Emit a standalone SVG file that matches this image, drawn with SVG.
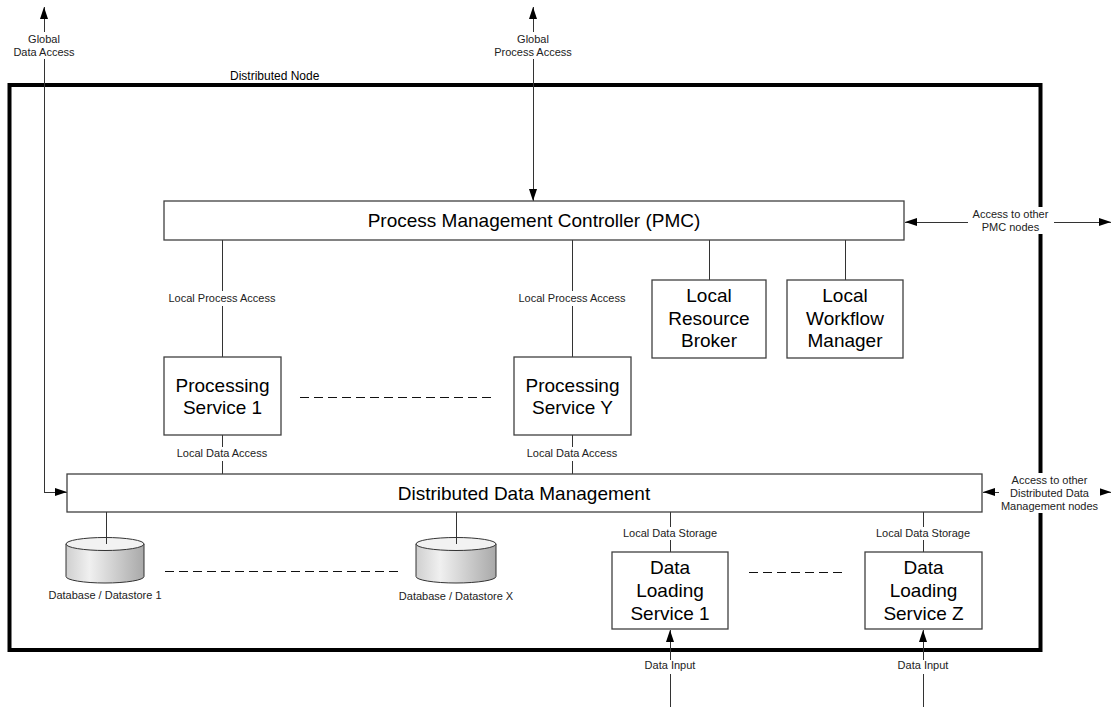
<svg xmlns="http://www.w3.org/2000/svg" width="1112" height="707" viewBox="0 0 1112 707">
<defs>
<marker id="ah" viewBox="0 0 12 8" refX="12" refY="4" markerWidth="12" markerHeight="8" markerUnits="userSpaceOnUse" orient="auto-start-reverse">
<path d="M0,0 L12,4 L0,8 z" fill="#000"/>
</marker>
<linearGradient id="cyl" x1="0" y1="0" x2="1" y2="0">
<stop offset="0" stop-color="#cfcfcf"/>
<stop offset="0.3" stop-color="#f0f0f0"/>
<stop offset="1" stop-color="#a9a9a9"/>
</linearGradient>
<style>
.box{fill:#fff;stroke:#404040;stroke-width:1.3}
.ln{fill:none;stroke:#333;stroke-width:1;shape-rendering:crispEdges}
.dash{fill:none;stroke:#111;stroke-width:1;stroke-dasharray:9,5;shape-rendering:crispEdges}
.big{font-family:"Liberation Sans",Arial,sans-serif;font-size:19px;fill:#000;text-anchor:middle}
.sm{font-family:"Liberation Sans",Arial,sans-serif;font-size:11px;fill:#222;text-anchor:middle}
.bg{fill:#fff;stroke:none}
.cylbody{fill:url(#cyl);stroke:#333;stroke-width:1}
.cyltop{fill:#f2f2f2;stroke:#333;stroke-width:1}
</style>
</defs>
<rect width="1112" height="707" fill="#fff"/>
<g id="frame">
<rect x="9.5" y="85" width="1031" height="565" fill="none" stroke="#000" stroke-width="4"/>
<text x="230" y="80" font-family="Liberation Sans, Arial, sans-serif" font-size="12" fill="#000">Distributed Node</text>
</g>
<g id="connectors">
<path class="ln" d="M44,7 L44,492 L67,492" marker-start="url(#ah)" marker-end="url(#ah)"/>
<path class="ln" d="M533,7 L533,201" marker-start="url(#ah)" marker-end="url(#ah)"/>
<path class="ln" d="M905,222 L1111,222" marker-start="url(#ah)" marker-end="url(#ah)"/>
<path class="ln" d="M983,492 L1111,492" marker-start="url(#ah)" marker-end="url(#ah)"/>
<path class="ln" d="M709,240 L709,280"/>
<path class="ln" d="M845,240 L845,280"/>
<path class="ln" d="M222,240 L222,357"/>
<path class="ln" d="M222,435 L222,474"/>
<path class="ln" d="M572,240 L572,357"/>
<path class="ln" d="M572,435 L572,474"/>
<path class="ln" d="M670,512 L670,552"/>
<path class="ln" d="M923,512 L923,552"/>
<path class="ln" d="M670,707 L670,630" marker-end="url(#ah)"/>
<path class="ln" d="M923,707 L923,630" marker-end="url(#ah)"/>
<path class="dash" d="M300,397 L495,397"/>
<path class="dash" d="M165,571 L398,571"/>
<path class="dash" d="M749,572 L847,572"/>
</g>
<g id="labels">
<rect class="bg" x="12" y="32" width="64" height="27"/>
<text class="sm" x="44" y="43">Global</text>
<text class="sm" x="44" y="56">Data Access</text>
<rect class="bg" x="492" y="32" width="82" height="27"/>
<text class="sm" x="533" y="43">Global</text>
<text class="sm" x="533" y="56">Process Access</text>
<rect class="bg" x="968" y="207" width="86" height="27"/>
<text class="sm" x="1010.5" y="218">Access to other</text>
<text class="sm" x="1010.5" y="231">PMC nodes</text>
<rect class="bg" x="999" y="473" width="101" height="40"/>
<text class="sm" x="1049.5" y="484">Access to other</text>
<text class="sm" x="1049.5" y="497">Distributed Data</text>
<text class="sm" x="1049.5" y="510">Management nodes</text>
<rect class="bg" x="166" y="291" width="112" height="15"/>
<text class="sm" x="222" y="302">Local Process Access</text>
<rect class="bg" x="516" y="291" width="112" height="15"/>
<text class="sm" x="572" y="302">Local Process Access</text>
<rect class="bg" x="174" y="447" width="96" height="14"/>
<text class="sm" x="222" y="457">Local Data Access</text>
<rect class="bg" x="524" y="447" width="96" height="14"/>
<text class="sm" x="572" y="457">Local Data Access</text>
<rect class="bg" x="620" y="527" width="100" height="13"/>
<text class="sm" x="670" y="536.5">Local Data Storage</text>
<rect class="bg" x="873" y="527" width="100" height="13"/>
<text class="sm" x="923" y="536.5">Local Data Storage</text>
<rect class="bg" x="642" y="660" width="56" height="14"/>
<text class="sm" x="670" y="669">Data Input</text>
<rect class="bg" x="895" y="660" width="56" height="14"/>
<text class="sm" x="923" y="669">Data Input</text>
</g>
<g id="pmc">
<rect class="box" x="164" y="201" width="740" height="39"/>
<text class="big" x="534" y="227">Process Management Controller (PMC)</text>
</g>
<g id="lrb">
<rect class="box" x="652" y="280" width="114" height="78"/>
<text class="big" x="709" y="302">Local</text>
<text class="big" x="709" y="324.5">Resource</text>
<text class="big" x="709" y="347">Broker</text>
</g>
<g id="lwm">
<rect class="box" x="787" y="280" width="116" height="78"/>
<text class="big" x="845" y="302">Local</text>
<text class="big" x="845" y="324.5">Workflow</text>
<text class="big" x="845" y="347">Manager</text>
</g>
<g id="ps1">
<rect class="box" x="164" y="357" width="117" height="78"/>
<text class="big" x="222.5" y="391.5">Processing</text>
<text class="big" x="222.5" y="413.5">Service 1</text>
</g>
<g id="psy">
<rect class="box" x="514" y="357" width="117" height="78"/>
<text class="big" x="572.5" y="391.5">Processing</text>
<text class="big" x="572.5" y="413.5">Service Y</text>
</g>
<g id="ddm">
<rect class="box" x="67" y="474" width="915" height="38"/>
<text class="big" x="524" y="500">Distributed Data Management</text>
</g>
<g id="db1">
<path class="cylbody" d="M66,544 L66,576.5 A39,6.5 0 0 0 144,576.5 L144,544 Z"/>
<ellipse class="cyltop" cx="105" cy="544" rx="39" ry="6.5"/>
<path class="ln" d="M106,512 L106,544"/>
<text class="sm" x="105" y="599">Database / Datastore 1</text>
</g>
<g id="dbx">
<path class="cylbody" d="M416,544 L416,576.5 A40,6.5 0 0 0 496,576.5 L496,544 Z"/>
<ellipse class="cyltop" cx="456" cy="544" rx="40" ry="6.5"/>
<path class="ln" d="M456,512 L456,544"/>
<text class="sm" x="456" y="600">Database / Datastore X</text>
</g>
<g id="dls1">
<rect class="box" x="612" y="552" width="116" height="77"/>
<text class="big" x="670" y="574">Data</text>
<text class="big" x="670" y="597">Loading</text>
<text class="big" x="670" y="620">Service 1</text>
</g>
<g id="dlsz">
<rect class="box" x="865" y="552" width="117" height="77"/>
<text class="big" x="923.5" y="574">Data</text>
<text class="big" x="923.5" y="597">Loading</text>
<text class="big" x="923.5" y="620">Service Z</text>
</g>
</svg>
